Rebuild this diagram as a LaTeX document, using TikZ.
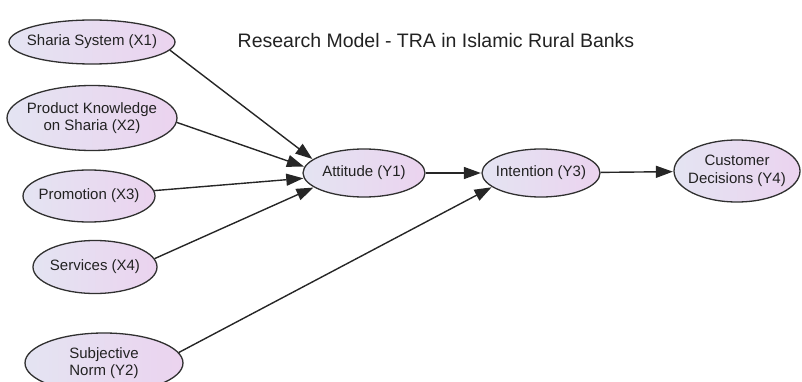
\documentclass[tikz,border=0pt]{standalone}
\usepackage{fontspec}
\setmainfont{Liberation Sans}
\usetikzlibrary{shapes.geometric,arrows.meta}
\definecolor{lcol}{HTML}{E4E4F2}
\definecolor{rcol}{HTML}{EBD3EF}
\definecolor{edgecol}{HTML}{303030}
\definecolor{txtcol}{HTML}{222222}
\begin{document}
\begin{tikzpicture}[x=1pt,y=-1pt,
  oval/.style={ellipse, draw=edgecol, line width=1.3pt, left color=lcol, right color=rcol, inner sep=0pt},
  lbl/.style={font=\fontsize{15}{17.5}\selectfont, text=txtcol, align=center},
  conn/.style={draw=black!85, line width=1.4pt, -{Triangle[length=17pt,width=12pt]}, shorten >=0.5pt}
]
\useasboundingbox (0,0) rectangle (802,382);
\node[oval, minimum width=166, minimum height=44, label={[lbl]center:Sharia System (X1)}] (x1) at (92,42) {};
\node[oval, minimum width=170, minimum height=65, label={[lbl]center:{Product Knowledge\\on Sharia (X2)}}] (x2) at (92,118) {};
\node[oval, minimum width=132, minimum height=52, label={[lbl]center:Promotion (X3)}] (x3) at (89,196) {};
\node[oval, minimum width=124, minimum height=53, label={[lbl]center:Services (X4)}] (x4) at (95,267) {};
\node[oval, minimum width=158, minimum height=60, label={[lbl]center:{Subjective\\Norm (Y2)}}] (y2) at (104,363) {};
\node[oval, minimum width=122, minimum height=48, label={[lbl]center:Attitude (Y1)}] (y1) at (364,173) {};
\node[oval, minimum width=118, minimum height=48, label={[lbl]center:Intention (Y3)}] (y3) at (541,173) {};
\node[oval, minimum width=126, minimum height=62, label={[lbl]center:{Customer\\Decisions (Y4)}}] (y4) at (737,171) {};
\node[font=\fontsize{19.5}{22}\selectfont, text=txtcol] (title) at (436,41) {Research Model - TRA in Islamic Rural Banks};
\draw[conn] (x1.-6) -- (y1.165);
\draw[conn] (x2.-3) -- (y1.174);
\draw[conn] (x3) -- (y1.185);
\draw[conn] (x4.8) -- (y1.196);
\draw[conn] (y1) -- (y3);
\draw[conn] (y2.8) -- (y3.196);
\draw[conn] (y3) -- (y4);
\end{tikzpicture}
\end{document}
